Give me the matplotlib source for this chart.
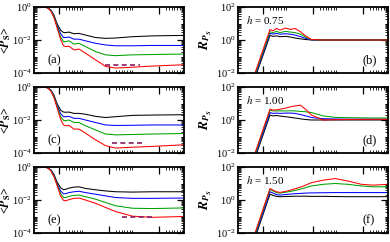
import matplotlib
matplotlib.use('Agg')
import matplotlib.pyplot as plt
import matplotlib.ticker as mticker
import numpy as np

#--- Fonts (xmgrace / Times look) ---
plt.rcParams['font.family'] = 'serif'
plt.rcParams['font.serif'] = ['Liberation Serif', 'DejaVu Serif']
plt.rcParams['mathtext.fontset'] = 'stix'

#############################################################
# Data: all values are log10 exponents

# time grid (log10 t) for the <P_S> panels
logt_left = [-0.5, -0.3, -0.22, -0.16, -0.1, -0.04, 0.03, 0.09, 0.13, 0.2,
             0.3, 0.4, 0.53, 0.73, 0.93, 1.13, 1.47, 1.87, 2.5]

# panel (a), h = 0.75
a_black = [0, 0, -0.05, -0.2, -0.5, -1.0, -1.4, -1.55, -1.55, -1.52,
           -1.62, -1.6, -1.7, -1.85, -1.9, -1.88, -1.8, -1.75, -1.72]
a_blue = [0, 0, -0.05, -0.22, -0.55, -1.1, -1.6, -1.85, -1.85, -1.82,
          -1.95, -1.95, -2.05, -2.2, -2.3, -2.35, -2.35, -2.33, -2.33]
a_green = [0, 0, -0.06, -0.24, -0.6, -1.15, -1.8, -2.1, -2.1, -2.05,
           -2.25, -2.2, -2.4, -2.7, -2.9, -2.95, -2.9, -2.88, -2.85]
a_red = [0, 0, -0.07, -0.26, -0.65, -1.25, -1.95, -2.35, -2.4, -2.38,
         -2.6, -2.55, -2.8, -3.2, -3.6, -3.7, -3.65, -3.58, -3.5]

# panel (c), h = 1.00
c_black = [0, 0, -0.05, -0.2, -0.5, -1.0, -1.4, -1.52, -1.53, -1.52,
           -1.6, -1.6, -1.65, -1.78, -1.85, -1.8, -1.72, -1.7, -1.68]
c_blue = [0, 0, -0.05, -0.22, -0.55, -1.1, -1.6, -1.8, -1.8, -1.78,
          -1.9, -1.9, -2.0, -2.15, -2.3, -2.33, -2.32, -2.3, -2.3]
c_green = [0, 0, -0.06, -0.24, -0.6, -1.15, -1.8, -2.02, -2.05, -2.0,
           -2.15, -2.15, -2.35, -2.6, -2.85, -2.9, -2.88, -2.85, -2.82]
c_red = [0, 0, -0.07, -0.26, -0.65, -1.25, -1.95, -2.3, -2.35, -2.33,
         -2.55, -2.55, -2.8, -3.2, -3.55, -3.7, -3.65, -3.6, -3.5]

# panel (e), h = 1.50
e_black = [0, 0, -0.05, -0.18, -0.45, -0.9, -1.25, -1.38, -1.35, -1.28,
           -1.22, -1.2, -1.3, -1.38, -1.45, -1.5, -1.52, -1.5, -1.5]
e_blue = [0, 0, -0.05, -0.2, -0.5, -1.0, -1.45, -1.62, -1.62, -1.55,
          -1.5, -1.47, -1.55, -1.65, -1.75, -1.85, -1.9, -1.9, -1.88]
e_green = [0, 0, -0.06, -0.22, -0.55, -1.05, -1.6, -1.85, -1.85, -1.78,
           -1.72, -1.7, -1.8, -1.95, -2.15, -2.35, -2.5, -2.52, -2.48]
e_red = [0, 0, -0.07, -0.24, -0.6, -1.1, -1.75, -2.02, -2.05, -1.98,
         -1.9, -1.88, -2.0, -2.2, -2.45, -2.7, -2.98, -3.05, -3.0]

# dashed reference lines (start, end of log10 t, level)
dash_a = [0.92, 1.62, -3.52]
dash_c = [1.06, 1.68, -3.38]
dash_e = [1.25, 1.85, -3.03]

# time grid (log10 t) for the R_{P_S} panels
logt_right = [-0.3, -0.16, 0.14, 0.2, 0.27, 0.34, 0.45, 0.55, 0.64, 0.75,
              0.85, 0.97, 1.2, 1.44, 1.7, 1.97, 2.2, 2.5]

# panel (b)
b_red = [-3.4, -2.0, 0.64, 0.56, 0.7, 0.6, 0.72, 0.64, 0.7, 0.5,
         0.25, 0.03, 0, 0, 0, 0, 0, 0]
b_green = [-3.5, -2.1, 0.5, 0.45, 0.52, 0.45, 0.52, 0.48, 0.45, 0.35,
           0.18, 0.02, 0, 0, 0, 0, 0, 0]
b_blue = [-3.6, -2.2, 0.4, 0.36, 0.4, 0.35, 0.38, 0.35, 0.3, 0.2,
          0.1, 0.01, 0, 0, 0, 0, 0, 0]
b_black = [-3.7, -2.3, 0.27, 0.22, 0.25, 0.2, 0.22, 0.18, 0.12, 0.07,
           0.03, 0.0, 0, 0, 0, 0, 0, 0]

# panel (d)
d_red = [-3.4, -2.0, 0.66, 0.6, 0.62, 0.65, 0.72, 0.8, 0.85, 0.9,
         0.65, 0.3, 0.0, 0.02, 0.03, 0.04, 0.04, 0.04]
d_green = [-3.5, -2.1, 0.6, 0.55, 0.55, 0.55, 0.55, 0.56, 0.55, 0.52,
           0.5, 0.45, 0.25, 0.16, 0.14, 0.13, 0.12, 0.12]
d_blue = [-3.6, -2.2, 0.45, 0.4, 0.42, 0.4, 0.42, 0.42, 0.4, 0.33,
          0.25, 0.15, 0.08, 0.06, 0.05, 0.05, 0.05, 0.05]
d_black = [-3.7, -2.3, 0.3, 0.25, 0.27, 0.24, 0.2, 0.16, 0.12, 0.07,
           0.03, 0.0, 0, 0, 0, 0, 0, 0]

# panel (f)
f_red = [-3.4, -2.0, 0.7, 0.6, 0.5, 0.46, 0.52, 0.6, 0.68, 0.78,
         0.9, 1.05, 1.2, 1.3, 1.15, 0.95, 0.9, 0.95]
f_green = [-3.5, -2.1, 0.64, 0.55, 0.45, 0.42, 0.47, 0.52, 0.58, 0.66,
           0.75, 0.85, 0.95, 1.0, 0.95, 0.85, 0.8, 0.8]
f_blue = [-3.6, -2.2, 0.5, 0.42, 0.33, 0.3, 0.33, 0.36, 0.38, 0.4,
          0.42, 0.43, 0.44, 0.45, 0.45, 0.45, 0.45, 0.45]
f_black = [-3.7, -2.3, 0.35, 0.28, 0.22, 0.2, 0.21, 0.22, 0.23, 0.23,
           0.23, 0.22, 0.22, 0.21, 0.2, 0.2, 0.2, 0.2]

h_values = ['0.75', '1.00', '1.50']
left_tags = ['(a)', '(c)', '(e)']
right_tags = ['(b)', '(d)', '(f)']

#############################################################
# Settings

FontSize = 7.5
LineW = 0.75
col_black, col_blue, col_green, col_red = 'black', '#0000ff', '#00a000', '#ff0000'
col_dash = '#8b1c62'

# minor x ticks, as multipliers inside each decade (xmgrace-like cluster)
minor_offsets = [1.4, 1.6, 1.8, 2.0, 2.3, 2.6, 2.9]

W, H = 390, 242
rows_top = [7, 87, 167]
panel_h = 66
left_x0, right_x0, panel_w = 34, 238, 150

#############################################################

def style_axes(ax, ylim, yticks):
    ax.set_xscale('log')
    ax.set_yscale('log')
    ax.set_xlim(10**-0.5, 10**2.5)
    ax.set_ylim(ylim)
    ax.xaxis.set_major_locator(mticker.FixedLocator([1, 10, 100]))
    mins = [m * 10.0**k for k in (-1, 0, 1, 2) for m in minor_offsets]
    ax.xaxis.set_minor_locator(mticker.FixedLocator(mins))
    ax.xaxis.set_minor_formatter(mticker.NullFormatter())
    ax.xaxis.set_major_formatter(mticker.NullFormatter())
    ax.yaxis.set_major_locator(mticker.FixedLocator(yticks))
    ax.yaxis.set_major_formatter(mticker.LogFormatterSciNotation())
    ax.yaxis.set_minor_locator(mticker.LogLocator(base=10, subs=np.arange(1, 10), numticks=30))
    ax.yaxis.set_minor_formatter(mticker.NullFormatter())
    ax.tick_params(which='both', direction='in', top=True, right=True,
                   labelsize=FontSize, pad=1.5)
    ax.tick_params(which='major', length=5, width=0.9)
    ax.tick_params(which='minor', length=2.5, width=0.6)
    for sp in ax.spines.values():
        sp.set_linewidth(1.3)


fig = plt.figure(figsize=(W / 100, H / 100), dpi=100)

left_sets = [(a_black, a_blue, a_green, a_red, dash_a),
             (c_black, c_blue, c_green, c_red, dash_c),
             (e_black, e_blue, e_green, e_red, dash_e)]
right_sets = [(b_black, b_blue, b_green, b_red),
              (d_black, d_blue, d_green, d_red),
              (f_black, f_blue, f_green, f_red)]

tl = 10.0**np.array(logt_left)
tr = 10.0**np.array(logt_right)

for ii in range(3):
    bottom = (H - rows_top[ii] - panel_h) / H

    #              LEFT: <P_S>
    ax1 = fig.add_axes([left_x0 / W, bottom, panel_w / W, panel_h / H])
    blk, blu, grn, red, dsh = left_sets[ii]
    for yy, cc in zip([blk, blu, grn, red], [col_black, col_blue, col_green, col_red]):
        ax1.plot(tl, 10.0**np.array(yy), color=cc, lw=LineW)
    ax1.plot([10**dsh[0], 10**dsh[1]], [10**dsh[2], 10**dsh[2]],
             color=col_dash, lw=1.2, ls=(0, (3, 2)))
    style_axes(ax1, (1e-4, 1.0), [1e-4, 1e-2, 1.0])
    ax1.set_ylabel(r'<$\mathbfit{P}_\mathbf{S}$>', fontsize=8.5, fontweight='bold')
    ax1.yaxis.set_label_coords(-0.138, 0.5)
    ax1.text(0.09, 0.2, left_tags[ii], transform=ax1.transAxes,
             fontsize=FontSize + 1.5, ha='left', va='center')

    #              RIGHT: R_{P_S}
    ax2 = fig.add_axes([right_x0 / W, bottom, panel_w / W, panel_h / H])
    blk, blu, grn, red = right_sets[ii]
    for yy, cc in zip([blk, blu, grn, red], [col_black, col_blue, col_green, col_red]):
        ax2.plot(tr, 10.0**np.array(yy), color=cc, lw=LineW)
    style_axes(ax2, (1e-2, 1e2), [1e-2, 1.0, 1e2])
    ax2.set_ylabel(r'$\mathbfit{R}_{\mathbfit{P}_\mathbfit{S}}$', fontsize=9.5)
    ax2.yaxis.set_label_coords(-0.16, 0.5)
    ax2.text(0.83, 0.2, right_tags[ii], transform=ax2.transAxes,
             fontsize=FontSize + 1.5, ha='left', va='center')
    ax2.text(0.05, 0.8, r'$h$ = ' + h_values[ii], transform=ax2.transAxes,
             fontsize=FontSize + 0.5, ha='left', va='center')

plt.savefig('out.png', dpi=100)
plt.close()
